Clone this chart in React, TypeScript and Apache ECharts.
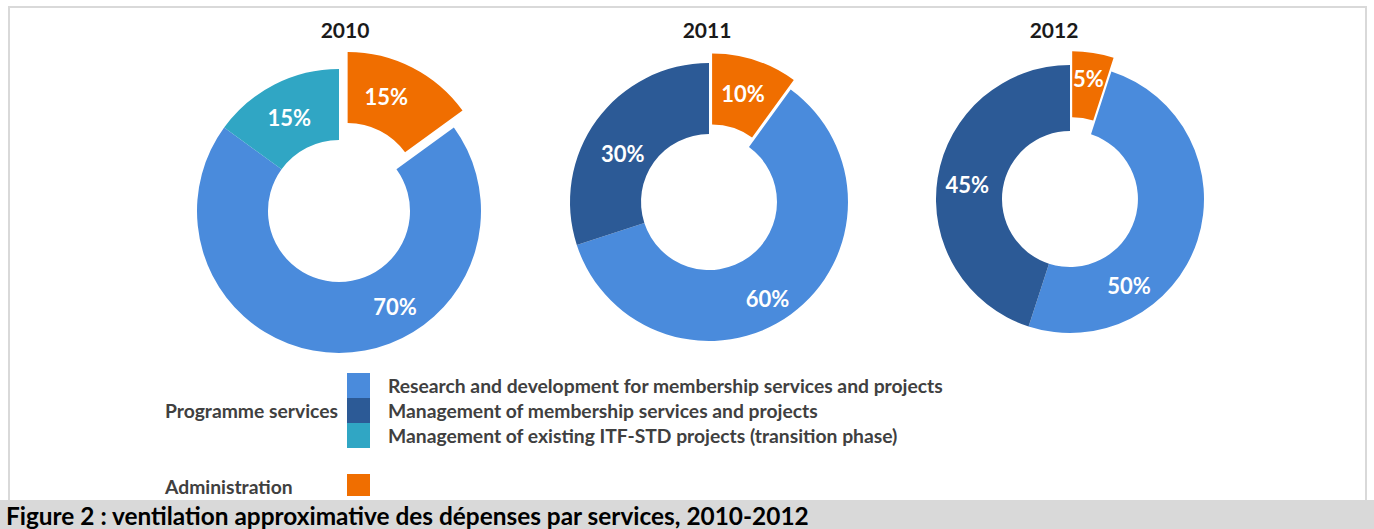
import React, { useEffect, useRef } from "react";
import * as echarts from "echarts";

const years = ["2010", "2011", "2012"];
const categories = [
  "Research and development for membership services and projects",
  "Management of membership services and projects",
  "Management of existing ITF-STD projects (transition phase)",
  "Administration",
];
const colors = ["#4A8BDC", "#2C5A96", "#30A6C4", "#F06E00"];
const rndValues = [70, 60, 50];
const mgmtValues = [0, 30, 45];
const itfValues = [15, 0, 0];
const adminValues = [15, 10, 5];
const groupLabels = ["Programme services", "Administration"];
const captionText = "Figure 2 : ventilation approximative des dépenses par services, 2010-2012";

const FONT = "Lato";

// layout (styling only)
const pieCenters = [[339, 211], [709, 202], [1070, 199]];
const pieRadii = [[71, 142], [68, 139], [68, 134]];
const explode = [19, 10, 14];
const titleX = [345, 707, 1054];
// label fine-tune shifts per year, keyed by category index
const labelShift: Record<number, Record<number, [number, number]>> = {
  0: { 3: [-11, 0], 0: [56, -14], 2: [0, 4] },
  1: { 0: [-4, 10], 1: [0, 14], 3: [-2, 2] },
  2: { 0: [-40, 54], 3: [0, -4], 1: [0, 2] },
};

export default function App() {
  const ref = useRef<HTMLDivElement>(null);
  useEffect(() => {
    if (!ref.current) return;
    const chart = echarts.init(ref.current, undefined, { renderer: "svg" });

    const series = years.map((y, i) => {
      const items = [
        { cat: 3, value: adminValues[i] },
        { cat: 0, value: rndValues[i] },
        { cat: 2, value: itfValues[i] },
        { cat: 1, value: mgmtValues[i] },
      ].filter((d) => d.value > 0);
      const data = items.map((d) => ({
        name: categories[d.cat],
        value: d.value,
        selected: d.cat === 3,
        itemStyle: { color: colors[d.cat] },
      }));
      return {
        type: "pie",
        name: y,
        center: pieCenters[i],
        radius: pieRadii[i],
        startAngle: 90,
        clockwise: true,
        selectedMode: "single",
        selectedOffset: explode[i],
        avoidLabelOverlap: false,
        silent: true,
        itemStyle: { borderWidth: 0 },
        label: {
          show: true,
          position: "inside",
          formatter: "{c}%",
          color: "#ffffff",
          fontFamily: FONT,
          fontWeight: "bold",
          fontSize: 22,
        },
        labelLine: { show: false },
        labelLayout: (p: any) => {
          const cat = items[p.dataIndex].cat;
          const s = labelShift[i][cat];
          return s ? { dx: s[0], dy: s[1] } : {};
        },
        emphasis: { disabled: true },
        data,
      };
    });

    const titles = years.map((y, i) => ({
      type: "text",
      x: titleX[i],
      y: 29,
      style: {
        text: y,
        fill: "#1a1a1a",
        font: `bold 21px ${FONT}`,
        textAlign: "center",
        textVerticalAlign: "middle",
      },
    }));

    chart.setOption({
      animation: false,
      backgroundColor: "#ffffff",
      legend: [
        {
          data: categories.slice(0, 3),
          orient: "vertical",
          left: 347,
          top: 373,
          itemWidth: 23,
          itemHeight: 25,
          itemGap: 0,
          icon: "rect",
          selectedMode: false,
          padding: 0,
          textStyle: {
            fontFamily: FONT,
            fontSize: 19.3,
            fontWeight: "bold",
            color: "#404040",
            padding: [0, 0, 0, 13],
          },
        },
        {
          data: [categories[3]],
          orient: "vertical",
          left: 347,
          top: 474,
          itemWidth: 23,
          itemHeight: 22,
          icon: "rect",
          selectedMode: false,
          padding: 0,
          formatter: () => "",
        },
      ],
      graphic: [
        {
          type: "rect",
          shape: { x: 9, y: 7, width: 1357, height: 494 },
          style: { fill: "none", stroke: "#d9d9d9", lineWidth: 2 },
        },
        {
          type: "rect",
          shape: { x: 0, y: 500, width: 1374, height: 29 },
          style: { fill: "#d9d9d9" },
        },
        {
          type: "text",
          x: 6,
          y: 515,
          style: {
            text: captionText,
            fill: "#000000",
            font: `bold 24.4px ${FONT}`,
            textVerticalAlign: "middle",
          },
        },
        {
          type: "text",
          x: 165,
          y: 410,
          style: {
            text: groupLabels[0],
            fill: "#404040",
            font: `bold 19.3px ${FONT}`,
            textVerticalAlign: "middle",
          },
        },
        {
          type: "text",
          x: 165,
          y: 486,
          style: {
            text: groupLabels[1],
            fill: "#404040",
            font: `bold 19.3px ${FONT}`,
            textVerticalAlign: "middle",
          },
        },
        ...titles,
      ],
      series,
    });
    return () => chart.dispose();
  }, []);
  return (
    <div
      ref={ref}
      style={{ position: "fixed", left: 0, top: 0, width: 1374, height: 529 }}
    />
  );
}
